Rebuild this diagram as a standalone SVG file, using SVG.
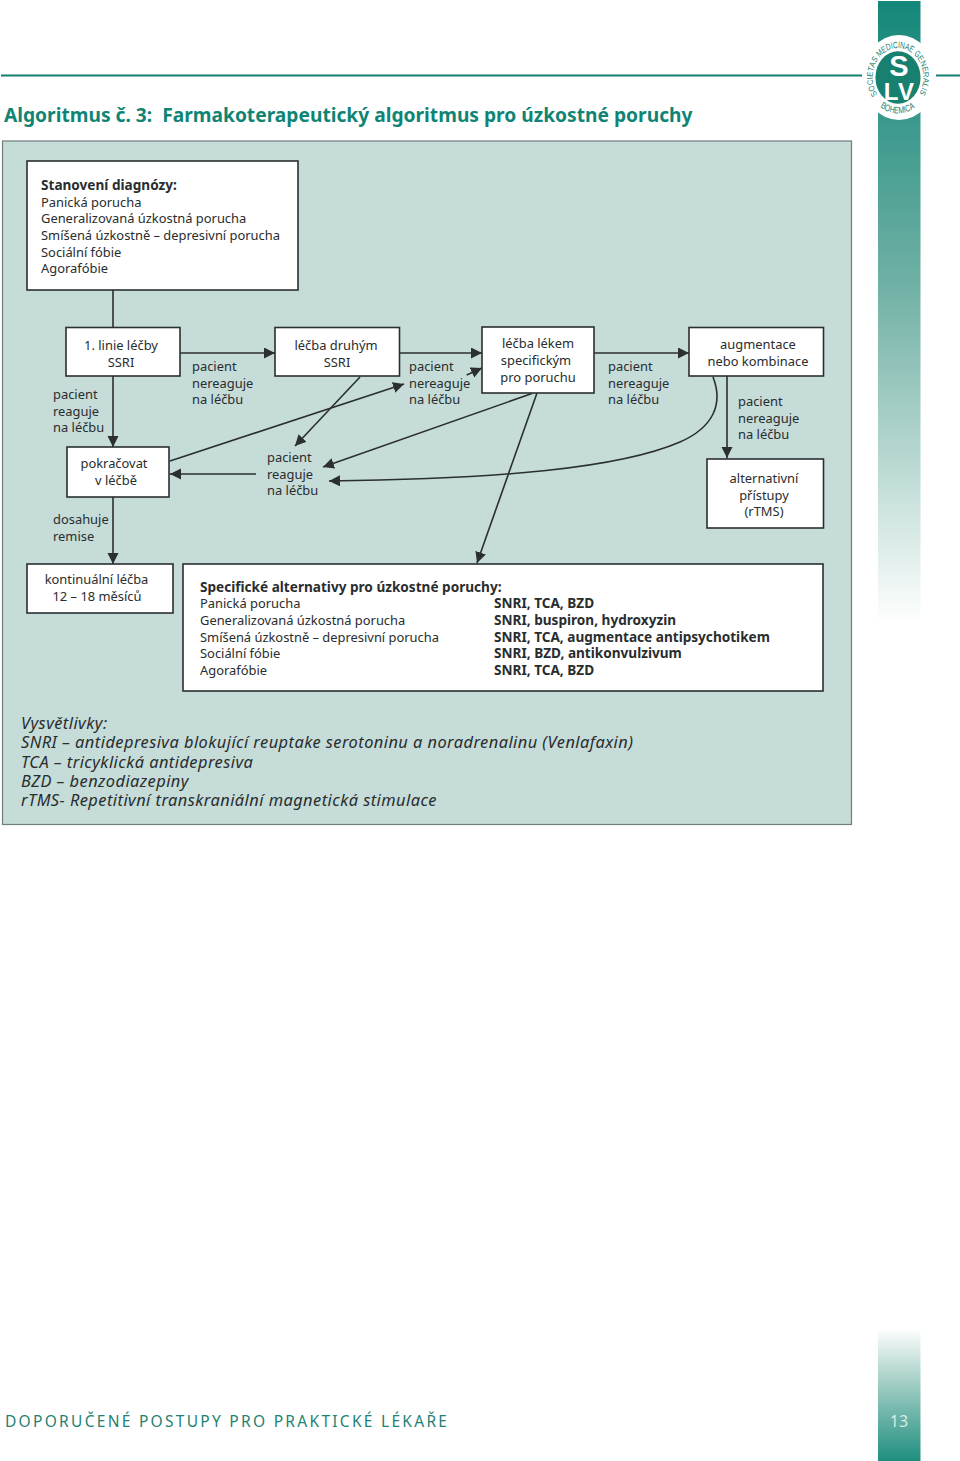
<svg xmlns="http://www.w3.org/2000/svg" width="960" height="1461" viewBox="0 0 960 1461">
<style>
text{font-family:"Noto Sans","Open Sans",sans-serif;font-size:12.9px;fill:#2a2d2e}
.b{font-weight:700;font-size:13.6px}
.c{text-anchor:middle}
.box{fill:#fff;stroke:#2b2f30;stroke-width:1.6}
.ln{fill:none;stroke:#2b2f30;stroke-width:1.6}
.i{font-style:italic;font-size:16.4px;letter-spacing:.45px}
.lg{font-family:"Liberation Sans",sans-serif;fill:#17806f;font-size:8.6px}
.sl{font-family:"Liberation Sans",sans-serif;font-weight:700;fill:#fff}
</style>
<defs>
<linearGradient id="g1" x1="0" y1="0" x2="0" y2="1"><stop offset="0" stop-color="#14877a"/><stop offset="0.45" stop-color="#6fb0a4"/><stop offset="0.75" stop-color="#bcdad4"/><stop offset="1" stop-color="#fff"/></linearGradient>
<linearGradient id="g2" x1="0" y1="0" x2="0" y2="1"><stop offset="0" stop-color="#fff"/><stop offset="0.4" stop-color="#a5cfc6"/><stop offset="1" stop-color="#1f8f7f"/></linearGradient>
<marker id="a" markerUnits="userSpaceOnUse" markerWidth="12" markerHeight="12" refX="11" refY="5.500" orient="auto"><path d="M0 0L11 5.500L0 11Z" fill="#2b2f30"/></marker>
<path id="lgt" d="M-22.100 15.500A27 27 0 1 1 22.100 15.500"/>
<path id="lgb" d="M-18.900 27A33 33 0 0 0 18.900 27"/>
</defs>
<rect width="960" height="1461" fill="#fff"/>
<g id="decor">
<rect x="878" y="1" width="42.500" height="624" fill="url(#g1)"/>
<rect x="878" y="1328" width="42.500" height="133" fill="url(#g2)"/>
<path d="M1 75.500H862M936 75.500H960" stroke="#167e70" stroke-width="1.800" fill="none"/>
</g>
<g id="logo">
<ellipse cx="899" cy="77.500" rx="37" ry="42.500" fill="#fff"/>
<g transform="translate(898 77.500) scale(.94 1.09)">
<circle r="24" fill="#17806f"/>
<text class="lg"><textPath href="#lgt" textLength="116" lengthAdjust="spacingAndGlyphs">SOCIETAS MEDICINAE GENERALIS</textPath></text>
<text class="lg"><textPath href="#lgb" textLength="39" lengthAdjust="spacingAndGlyphs">BOHEMICA</textPath></text>
</g>
<text x="899" y="76" class="c sl" style="font-size:29px">S</text>
<text x="891" y="100" class="c sl" style="font-size:24px">L</text>
<text x="906" y="100" class="c sl" style="font-size:24px">V</text>
</g>
<text id="title" x="4" y="122" xml:space="preserve" style="font-weight:700;font-size:19.200px;fill:#0f8474">Algoritmus č. 3:  Farmakoterapeutický algoritmus pro úzkostné poruchy</text>
<rect id="panel" x="2.500" y="141" width="849" height="683.500" fill="#c5dcd8" stroke="#6f7d7b" stroke-width="1.200"/>
<g id="connectors">
<path class="ln" d="M113 290V327"/>
<path class="ln" marker-end="url(#a)" d="M113 376V447"/>
<path class="ln" marker-end="url(#a)" d="M113 497V564"/>
<path class="ln" marker-end="url(#a)" d="M180 353H275"/>
<path class="ln" marker-end="url(#a)" d="M400 353H482"/>
<path class="ln" marker-end="url(#a)" d="M594 353H689"/>
<path class="ln" marker-end="url(#a)" d="M727 376V458"/>
<path class="ln" marker-end="url(#a)" d="M360 377L295 446"/>
<path class="ln" marker-end="url(#a)" d="M170 461L404 384"/>
<path class="ln" marker-end="url(#a)" d="M466.700 375L482 368"/>
<path class="ln" marker-end="url(#a)" d="M256 474H170"/>
<path class="ln" marker-end="url(#a)" d="M532 393.500L323 467"/>
<path class="ln" marker-end="url(#a)" d="M537 393L477 563"/>
<path class="ln" marker-end="url(#a)" d="M713 377C724 405 712 428 680 442C620 468 500 479 329 481"/>
</g>
<g id="n-diag"><rect class="box" x="27" y="161" width="271" height="129"/>
<text class="b" x="41" y="190">Stanovení diagnózy:</text><text x="41" y="206.500">Panická porucha</text><text x="41" y="223">Generalizovaná úzkostná porucha</text><text x="41" y="240">Smíšená úzkostně – depresivní porucha</text><text x="41" y="256.500">Sociální fóbie</text><text x="41" y="273">Agorafóbie</text></g>
<g id="n-linie"><rect class="box" x="66" y="327.500" width="114" height="48.500"/><text class="c" x="121" y="350">1. linie léčby</text><text class="c" x="121" y="367">SSRI</text></g>
<g id="n-druhy"><rect class="box" x="275" y="327.500" width="124.500" height="48.500"/><text class="c" x="336" y="350">léčba druhým</text><text class="c" x="337" y="367">SSRI</text></g>
<g id="n-lek"><rect class="box" x="482" y="327" width="112" height="66"/><text class="c" x="538" y="348">léčba lékem</text><text class="c" x="536" y="365">specifickým</text><text class="c" x="538" y="382">pro poruchu</text></g>
<g id="n-aug"><rect class="box" x="689" y="327.500" width="134.500" height="48.500"/><text class="c" x="758" y="349">augmentace</text><text class="c" x="758" y="366">nebo kombinace</text></g>
<g id="n-pokr"><rect class="box" x="67" y="447" width="102" height="50"/><text class="c" x="114" y="468">pokračovat</text><text class="c" x="116" y="484.500">v léčbě</text></g>
<g id="n-alt"><rect class="box" x="707" y="459" width="116.500" height="69"/><text class="c" x="764" y="483">alternativní</text><text class="c" x="764" y="499.500">přístupy</text><text class="c" x="764" y="516">(rTMS)</text></g>
<g id="n-kont"><rect class="box" x="27" y="564" width="146" height="49"/><text class="c" x="96.500" y="584">kontinuální léčba</text><text class="c" x="97" y="601">12 – 18 měsíců</text></g>
<g id="n-spec"><rect class="box" x="183" y="564" width="640" height="127"/>
<text class="b" x="200" y="592">Specifické alternativy pro úzkostné poruchy:</text>
<text x="200" y="608">Panická porucha</text><text x="200" y="625">Generalizovaná úzkostná porucha</text><text x="200" y="641.500">Smíšená úzkostně – depresivní porucha</text><text x="200" y="658">Sociální fóbie</text><text x="200" y="675">Agorafóbie</text>
<text class="b" x="494" y="608">SNRI, TCA, BZD</text><text class="b" x="494" y="625">SNRI, buspiron, hydroxyzin</text><text class="b" x="494" y="641.500">SNRI, TCA, augmentace antipsychotikem</text><text class="b" x="494" y="658">SNRI, BZD, antikonvulzivum</text><text class="b" x="494" y="675">SNRI, TCA, BZD</text></g>
<g id="labels">
<text x="53" y="399">pacient</text><text x="53" y="416">reaguje</text><text x="53" y="432">na léčbu</text>
<text x="192" y="371">pacient</text><text x="192" y="388">nereaguje</text><text x="192" y="404">na léčbu</text>
<text x="409" y="371">pacient</text><text x="409" y="388">nereaguje</text><text x="409" y="404">na léčbu</text>
<text x="608" y="371">pacient</text><text x="608" y="388">nereaguje</text><text x="608" y="404">na léčbu</text>
<text x="738" y="406">pacient</text><text x="738" y="423">nereaguje</text><text x="738" y="439">na léčbu</text>
<text x="267" y="462">pacient</text><text x="267" y="478.500">reaguje</text><text x="267" y="495">na léčbu</text>
<text x="53" y="524">dosahuje</text><text x="53" y="541">remise</text>
</g>
<g id="legend">
<text class="i" x="21" y="729">Vysvětlivky:</text>
<text class="i" x="21" y="748">SNRI – antidepresiva blokující reuptake serotoninu a noradrenalinu (Venlafaxin)</text>
<text class="i" x="21" y="768">TCA – tricyklická antidepresiva</text>
<text class="i" x="21" y="787">BZD – benzodiazepiny</text>
<text class="i" x="21" y="806">rTMS- Repetitivní transkraniální magnetická stimulace</text>
</g>
<text id="footer" x="5" y="1427" textLength="442" style="font-size:15.500px;fill:#1f8272">DOPORUČENÉ POSTUPY PRO PRAKTICKÉ LÉKAŘE</text>
<text id="page" x="899" y="1427" class="c" style="font-size:16px;fill:#d5ecea">13</text>
</svg>
